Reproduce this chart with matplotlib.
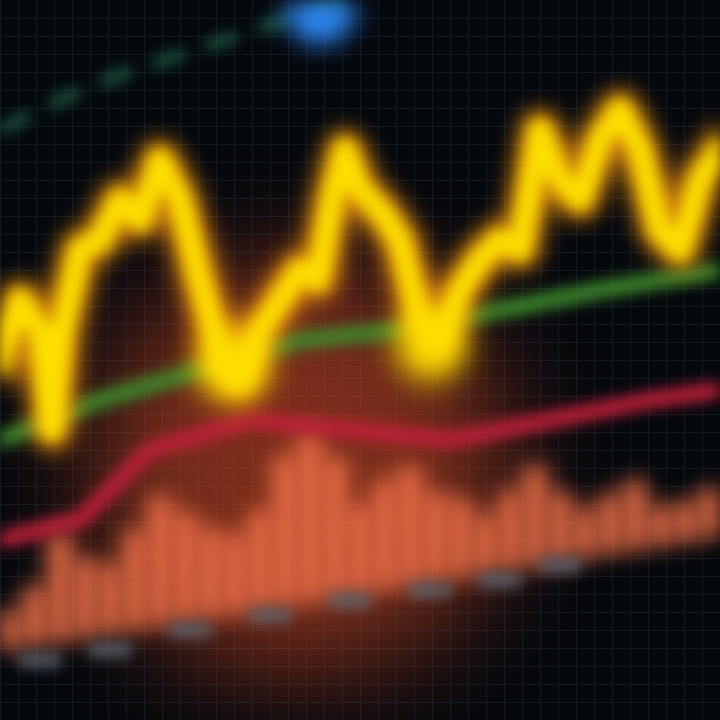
import numpy as np
import matplotlib
matplotlib.use('Agg')
import matplotlib.pyplot as plt

# values (x left->right, y bottom->top, 0..720)
price_x = [0, 20, 40, 52, 62, 80, 100, 120, 140, 160, 180, 200, 222, 240, 260, 280, 300,
           318, 332, 345, 360, 380, 400, 420, 440, 460, 480, 500, 520, 540, 560, 580,
           600, 620, 640, 660, 680, 700, 720]
price_y = [360, 420, 390, 290, 390, 470, 480, 520, 500, 560, 520, 440, 360, 340, 390, 420,
           450, 440, 520, 570, 530, 510, 480, 400, 380, 430, 460, 480, 470, 590, 540, 520,
           580, 610, 570, 490, 470, 540, 570]
blob_x = [430, 232]
blob_y = [375, 355]

ma_slow_x = [0, 100, 200, 300, 400, 500, 600, 720]
ma_slow_y = [280, 320, 350, 380, 390, 410, 430, 450]

ma_red_x = [0, 80, 150, 250, 350, 450, 550, 650, 720]
ma_red_y = [180, 200, 270, 300, 290, 280, 300, 320, 330]

top_x = [0, 60, 120, 180, 240, 300, 360]
top_y = [590, 620, 645, 665, 685, 705, 720]

vol_x = [10, 35, 60, 85, 110, 135, 160, 185, 210, 235, 260, 285, 310, 335, 360, 385, 410,
         435, 460, 485, 510, 535, 560, 585, 610, 635, 660, 685, 710]
vol_base = [70, 74, 78, 82, 86, 90, 94, 98, 102, 106, 110, 114, 118, 122, 126, 130,
            134, 138, 142, 146, 150, 154, 158, 162, 166, 170, 174, 178, 182]
vol_h = [40, 60, 110, 80, 70, 100, 130, 110, 90, 80, 100, 150, 170, 140, 90, 110,
         120, 90, 80, 60, 80, 100, 70, 50, 60, 70, 40, 40, 50]

tick_x = [40, 110, 190, 270, 350, 430, 500, 560]
tick_y = [60, 70, 90, 105, 120, 130, 140, 155]


def gauss(im, s):
    r = int(3 * s)
    k = np.exp(-0.5 * (np.arange(-r, r + 1) / s) ** 2)
    k /= k.sum()
    p = np.pad(im, ((r, r), (0, 0), (0, 0)))
    out = np.zeros_like(im)
    for i, w in enumerate(k):
        out += w * p[i:i + im.shape[0]]
    p = np.pad(out, ((0, 0), (r, r), (0, 0)))
    out2 = np.zeros_like(im)
    for i, w in enumerate(k):
        out2 += w * p[:, i:i + im.shape[1]]
    return out2


def blur(s):
    def f(im, dpi):
        pad = int(3 * s) + 2
        src = np.pad(im, ((pad, pad), (pad, pad), (0, 0)))
        # premultiply so transparent pixels do not bleed their colour in
        src[..., :3] *= src[..., 3:]
        out = gauss(src, s)
        a = out[..., 3:]
        out[..., :3] = np.where(a > 1e-4, out[..., :3] / np.maximum(a, 1e-4), 0)
        return np.clip(out, 0, 1), -pad, -pad
    return f


fig = plt.figure(figsize=(7.2, 7.2), dpi=100)
fig.patch.set_facecolor('#04070c')
ax = fig.add_axes([0, 0, 1, 1])
ax.set_facecolor('#04070c')
ax.set_xlim(0, 720)
ax.set_ylim(0, 720)

# faint grid
for gx in np.arange(0, 720, 18):
    ax.axvline(gx, color='#111922', lw=0.8, zorder=0)
for gy in np.arange(0, 720, 18):
    ax.axhline(gy, color='#111922', lw=0.8, zorder=0)

# red/orange glow in the middle
g = ax.scatter([300], [250], s=90000, color='#d04a26', alpha=0.6, lw=0, zorder=1)
g.set_agg_filter(blur(40))

# volume bars
bars = ax.bar(vol_x, vol_h, width=24, bottom=vol_base, color='#f07048', zorder=2)
for b in bars:
    b.set_agg_filter(blur(11))

# tick label blobs
t, = ax.plot(tick_x, tick_y, ls='none', marker='_', ms=30, mew=10, color='#5c626c', zorder=2)
t.set_agg_filter(blur(7))

# top dashed line and blue dot
l, = ax.plot(top_x, top_y, color='#1f5a44', lw=8, ls=(0, (3, 2)), zorder=2)
l.set_agg_filter(blur(7))
d = ax.scatter([320], [712], s=2500, color='#2f8fff', zorder=3)
d.set_agg_filter(blur(9))

# moving averages
l, = ax.plot(ma_slow_x, ma_slow_y, color='#3f8a2c', lw=12, zorder=3)
l.set_agg_filter(blur(7))
l, = ax.plot(ma_red_x, ma_red_y, color='#c0203a', lw=12, zorder=3)
l.set_agg_filter(blur(7))

# price line: orange halo + yellow core
l, = ax.plot(price_x, price_y, color='#ff9a10', lw=30, alpha=0.8, zorder=4, solid_joinstyle='round')
l.set_agg_filter(blur(11))
l, = ax.plot(price_x, price_y, color='#ffe000', lw=16, zorder=5, solid_joinstyle='round')
l.set_agg_filter(blur(7))
b = ax.scatter(blob_x, blob_y, s=2500, color='#ffe000', zorder=5)
b.set_agg_filter(blur(11))

ax.axis('off')
fig.savefig('out.png', dpi=100, facecolor=fig.get_facecolor())
